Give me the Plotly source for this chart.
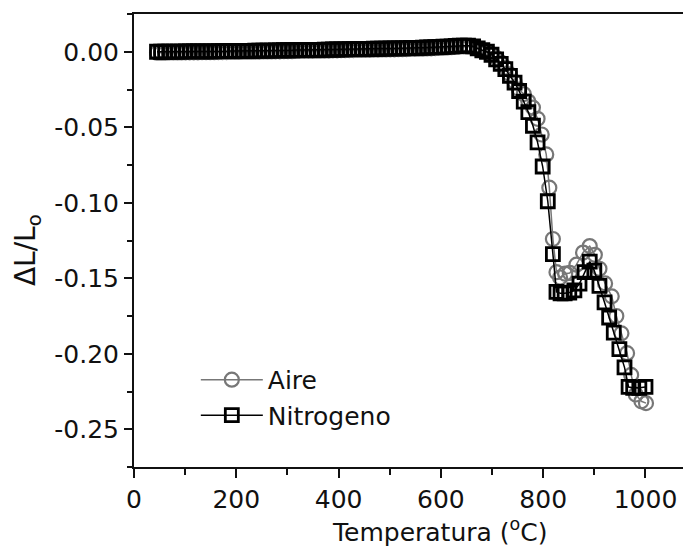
import plotly.graph_objects as go

# ---------------- data ----------------
temp_flat = [45, 53, 61, 69, 77, 85, 93, 101, 109,
             117, 125, 133, 141, 149, 157, 165, 173, 181,
             189, 197, 205, 213, 221, 229, 237, 245, 253,
             261, 269, 277, 285, 293, 301, 309, 317, 325,
             333, 341, 349, 357, 365, 373, 381, 389, 397,
             405, 413, 421, 429, 437, 445, 453, 461, 469,
             477, 485, 493, 501, 509, 517, 525, 533, 541,
             549, 557, 565, 573, 581, 589, 597, 605, 613,
             621, 629, 637, 645, 653]

nitro_flat = [0.0000, 0.0000, 0.0000, 0.0001, 0.0001, 0.0001, 0.0001, 0.0002, 0.0002,
              0.0002, 0.0002, 0.0003, 0.0003, 0.0003, 0.0003, 0.0004, 0.0004, 0.0004,
              0.0005, 0.0005, 0.0005, 0.0006, 0.0006, 0.0006, 0.0007, 0.0007, 0.0008,
              0.0008, 0.0008, 0.0009, 0.0009, 0.0010, 0.0010, 0.0010, 0.0011, 0.0011,
              0.0012, 0.0012, 0.0012, 0.0013, 0.0013, 0.0014, 0.0014, 0.0015, 0.0015,
              0.0016, 0.0016, 0.0017, 0.0017, 0.0018, 0.0018, 0.0019, 0.0019, 0.0020,
              0.0020, 0.0021, 0.0021, 0.0022, 0.0022, 0.0023, 0.0023, 0.0024, 0.0025,
              0.0025, 0.0026, 0.0027, 0.0028, 0.0029, 0.0030, 0.0031, 0.0033, 0.0034,
              0.0036, 0.0038, 0.0040, 0.0041, 0.0041]

aire_flat = [-0.0006, -0.0006, -0.0006, -0.0005, -0.0005, -0.0005, -0.0005, -0.0004, -0.0004,
             -0.0004, -0.0004, -0.0003, -0.0003, -0.0003, -0.0003, -0.0002, -0.0002, -0.0002,
             -0.0001, -0.0001, -0.0001, 0.0000, 0.0000, 0.0000, 0.0001, 0.0001, 0.0002,
             0.0002, 0.0002, 0.0003, 0.0003, 0.0004, 0.0004, 0.0004, 0.0005, 0.0005,
             0.0006, 0.0006, 0.0006, 0.0007, 0.0007, 0.0008, 0.0008, 0.0009, 0.0009,
             0.0010, 0.0010, 0.0011, 0.0011, 0.0012, 0.0012, 0.0013, 0.0013, 0.0014,
             0.0014, 0.0015, 0.0015, 0.0016, 0.0016, 0.0017, 0.0017, 0.0018, 0.0019,
             0.0019, 0.0020, 0.0021, 0.0022, 0.0023, 0.0024, 0.0025, 0.0027, 0.0028,
             0.0030, 0.0032, 0.0034, 0.0035, 0.0035]

nitro_temp_drop = [663, 672, 681, 690, 699, 708, 717, 726, 735, 744, 753, 762, 771,
                   780, 789, 799, 809, 819, 826, 834, 842, 851, 861, 871, 881, 891,
                   900, 910, 920, 929, 938, 949, 959, 967, 976, 988, 1000]
nitro_drop = [0.0036, 0.0022, 0.0010, 0.0000, -0.0020, -0.0050, -0.0080, -0.0115,
              -0.0160, -0.0205, -0.0260, -0.0330, -0.0400, -0.0490, -0.0600, -0.0760,
              -0.0990, -0.1340, -0.1590, -0.1600, -0.1600, -0.1595, -0.1580, -0.1535,
              -0.1460, -0.1390, -0.1450, -0.1550, -0.1660, -0.1760, -0.1860, -0.1970,
              -0.2090, -0.2220, -0.2225, -0.2225, -0.2220]

aire_temp_drop = [663, 672, 681, 690, 699, 708, 717, 726, 735, 744, 753, 762, 771,
                  780, 789, 797, 806, 812, 819, 826, 833, 843, 852, 865, 878, 891,
                  901, 910, 921, 934, 943, 953, 964, 972, 981, 992, 1001]
aire_drop = [0.0030, 0.0020, 0.0010, 0.0000, -0.0015, -0.0040, -0.0070, -0.0105,
             -0.0150, -0.0200, -0.0250, -0.0280, -0.0330, -0.0370, -0.0444, -0.0548,
             -0.0680, -0.0900, -0.1240, -0.1460, -0.1495, -0.1470, -0.1465, -0.1410,
             -0.1330, -0.1287, -0.1345, -0.1437, -0.1534, -0.1620, -0.1750, -0.1865,
             -0.1996, -0.2140, -0.2270, -0.2315, -0.2327]

series_names = ["Aire", "Nitrogeno"]

x_tickvals = [0, 200, 400, 600, 800, 1000]
x_ticktext = ["0", "200", "400", "600", "800", "1000"]
y_tickvals = [0.00, -0.05, -0.10, -0.15, -0.20, -0.25]
y_ticktext = ["0.00", "-0.05", "-0.10", "-0.15", "-0.20", "-0.25"]

x_title = "Temperatura (<sup>o</sup>C)"
y_title = "\u0394L/L<sub>o</sub>"

# ---------------- figure ----------------
FONT = "DejaVu Sans, Liberation Sans, Arial, sans-serif"
INK = "#111111"

aire_x = temp_flat + aire_temp_drop
aire_y = aire_flat + aire_drop
nitro_x = temp_flat + nitro_temp_drop
nitro_y = nitro_flat + nitro_drop

fig = go.Figure()
fig.add_trace(go.Scatter(
    x=aire_x, y=aire_y, name=series_names[0], mode="lines+markers",
    line=dict(color="#777777", width=1.5),
    marker=dict(symbol="circle-open", size=14, color="#777777",
                line=dict(color="#777777", width=2.2)),
))
fig.add_trace(go.Scatter(
    x=nitro_x, y=nitro_y, name=series_names[1], mode="lines+markers",
    line=dict(color="#000000", width=1.5),
    marker=dict(symbol="square-open", size=13, color="#000000",
                line=dict(color="#000000", width=2.8)),
))

# the page body keeps its default 8 px margin, so the figure is 8 px smaller
fig.update_layout(
    width=683, height=539,
    margin=dict(l=126, r=0, t=6, b=80),
    paper_bgcolor="white", plot_bgcolor="white",
    font=dict(family=FONT, size=25, color=INK),
    showlegend=True,
    legend=dict(x=0.111, y=0.243, xanchor="left", yanchor="top",
                bgcolor="rgba(0,0,0,0)", font=dict(size=25, family=FONT, color=INK),
                itemwidth=62, tracegroupgap=0),
    xaxis=dict(
        range=[0, 1089], showgrid=False, zeroline=False,
        showline=True, linecolor=INK, linewidth=2, mirror=True,
        ticks="outside", ticklen=9, tickwidth=2, tickcolor=INK,
        tickvals=x_tickvals, ticktext=x_ticktext,
        tickfont=dict(size=25, family=FONT, color=INK),
        minor=dict(ticks="outside", ticklen=6, tickwidth=2, tickcolor=INK, dtick=100, tick0=0),
    ),
    yaxis=dict(
        range=[-0.275, 0.025], showgrid=False, zeroline=False,
        showline=True, linecolor=INK, linewidth=2,
        ticks="outside", ticklen=8, tickwidth=2, tickcolor=INK,
        tickvals=y_tickvals, ticktext=y_ticktext,
        tickfont=dict(size=25, family=FONT, color=INK),
        minor=dict(ticks="outside", ticklen=5, tickwidth=2, tickcolor=INK, dtick=0.025, tick0=0),
    ),
    annotations=[
        dict(text=x_title, xref="paper", yref="paper", x=0.549, y=-0.141,
             xanchor="center", yanchor="middle", showarrow=False,
             font=dict(size=25, family=FONT, color=INK)),
        dict(text=y_title, xref="paper", yref="paper", x=-0.192, y=0.479,
             xanchor="center", yanchor="middle", showarrow=False, textangle=-90,
             font=dict(size=28, family=FONT, color=INK)),
    ],
)

fig.write_html("out.html")
